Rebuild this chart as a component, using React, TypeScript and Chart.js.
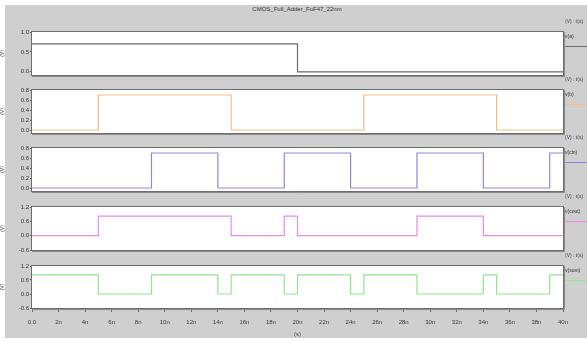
import React, { useEffect, useRef } from 'react';
import { Chart, registerables } from 'chart.js';
Chart.register(...registerables);

const TITLE = 'CMOS_Full_Adder_FoF47_22nm';
const X_TICKS = [0, 2, 4, 6, 8, 10, 12, 14, 16, 18, 20, 22, 24, 26, 28, 30, 32, 34, 36, 38, 40];

const aTimes = [0, 20, 40];
const aVals = [0.7, 0, 0];
const bTimes = [0, 5, 15, 25, 35, 40];
const bVals = [0, 0.7, 0, 0.7, 0, 0];
const cinTimes = [0, 9, 14, 19, 24, 29, 34, 39, 40];
const cinVals = [0, 0.7, 0, 0.7, 0, 0.7, 0, 0.7, 0.7];
const coutTimes = [0, 5, 15, 19, 20, 29, 34, 40];
const coutVals = [0, 0.82, 0, 0.82, 0, 0.82, 0, 0];
const sumTimes = [0, 5, 9, 14, 15, 19, 20, 24, 25, 29, 34, 35, 39, 40];
const sumVals = [0.82, 0, 0.82, 0, 0.82, 0, 0.82, 0, 0.82, 0, 0.82, 0, 0.82, 0.82];

const ticks1 = [0, 0.5, 1.0];
const ticks23 = [0, 0.2, 0.4, 0.6, 0.8];
const ticks45 = [-0.6, 0, 0.6, 1.2];

type Panel = {
  name: string; color: string; times: number[]; vals: number[];
  min: number; max: number; ticks: number[]; top: number; bottom: number; last?: boolean;
};

const PANELS: Panel[] = [
  { name: 'v(a)', color: '#6a6a6a', times: aTimes, vals: aVals, min: -0.08, max: 1.0, ticks: ticks1, top: 32, bottom: 75 },
  { name: 'v(b)', color: '#f5bd85', times: bTimes, vals: bVals, min: -0.06, max: 0.8, ticks: ticks23, top: 90, bottom: 133 },
  { name: 'v(cin)', color: '#8a8ae0', times: cinTimes, vals: cinVals, min: -0.06, max: 0.8, ticks: ticks23, top: 148, bottom: 191 },
  { name: 'v(cout)', color: '#e88ce8', times: coutTimes, vals: coutVals, min: -0.6, max: 1.2, ticks: ticks45, top: 207, bottom: 250 },
  { name: 'v(sum)', color: '#8ee88e', times: sumTimes, vals: sumVals, min: -0.6, max: 1.2, ticks: ticks45, top: 266, bottom: 308, last: true },
];

const PAD = 8;
const X_AXIS_H = 30;
const FONT = 'Liberation Sans, Arial, sans-serif';

const framePlugin = {
  id: 'frame',
  beforeDatasetsDraw(chart: any) {
    const { ctx, chartArea: a } = chart;
    ctx.save();
    ctx.fillStyle = '#ffffff';
    ctx.fillRect(a.left, a.top, a.right - a.left, a.bottom - a.top);
    ctx.restore();
  },
  afterDatasetsDraw(chart: any) {
    const { ctx, chartArea: a } = chart;
    ctx.save();
    ctx.strokeStyle = '#6e6e6e';
    ctx.lineWidth = 1;
    ctx.strokeRect(Math.round(a.left) - 0.5, Math.round(a.top) - 0.5, Math.round(a.right - a.left) + 1, Math.round(a.bottom - a.top) + 1);
    ctx.strokeStyle = '#8a8a8a';
    ctx.beginPath();
    ctx.moveTo(Math.round(a.left), Math.round(a.bottom) + 1.5);
    ctx.lineTo(Math.round(a.right) + 1.5, Math.round(a.bottom) + 1.5);
    ctx.lineTo(Math.round(a.right) + 1.5, Math.round(a.top));
    ctx.stroke();
    ctx.restore();
  },
};

function PanelChart({ p }: { p: Panel }) {
  const ref = useRef<HTMLCanvasElement | null>(null);
  const h = p.bottom - p.top + PAD + (p.last ? X_AXIS_H : PAD);
  useEffect(() => {
    if (!ref.current) return;
    const chart = new Chart(ref.current, {
      type: 'line',
      data: {
        datasets: [{
          data: p.times.map((t, i) => ({ x: t, y: p.vals[i] })),
          borderColor: p.color,
          borderWidth: 1.2,
          pointRadius: 0,
          stepped: 'before',
          fill: false,
        }],
      },
      options: {
        animation: false,
        responsive: false,
        maintainAspectRatio: false,
        layout: { padding: { left: 0, right: 24, top: PAD, bottom: p.last ? 0 : PAD } },
        plugins: { legend: { display: false }, tooltip: { enabled: false } },
        scales: {
          x: {
            type: 'linear',
            min: 0,
            max: 40,
            display: !!p.last,
            afterBuildTicks: (s: any) => { s.ticks = X_TICKS.map((v) => ({ value: v })); },
            afterFit: (s: any) => { s.height = p.last ? X_AXIS_H : 0; },
            grid: { drawOnChartArea: false, drawTicks: true, tickLength: 4, color: '#666' },
            border: { display: false },
            ticks: {
              autoSkip: false,
              maxRotation: 0,
              padding: 7,
              color: '#3a3a3a',
              font: { size: 6, family: FONT },
              callback: (v: any) => (v === 0 ? '0.0' : v + 'n'),
            },
            title: { display: true, text: '(s)', color: '#444', font: { size: 6, family: FONT }, padding: 0 },
          },
          y: {
            type: 'linear',
            min: p.min,
            max: p.max,
            afterBuildTicks: (s: any) => { s.ticks = p.ticks.map((v) => ({ value: v })); },
            afterFit: (s: any) => { s.width = 32; },
            grid: { drawOnChartArea: false, drawTicks: true, tickLength: 2, color: '#666' },
            border: { display: false },
            ticks: {
              padding: 1,
              color: '#3a3a3a',
              font: { size: 6, family: FONT },
              callback: (v: any) => Number(v).toFixed(1),
            },
            title: { display: true, text: '(V)', color: '#444', font: { size: 5, family: FONT }, padding: { top: 0, bottom: 4 } },
          },
        },
      },
      plugins: [framePlugin],
    } as any);
    return () => chart.destroy();
  }, []);
  return (
    <canvas
      ref={ref}
      width={587}
      height={h}
      style={{ position: 'absolute', left: 0, top: p.top - PAD, width: 587, height: h }}
    />
  );
}

export default function App() {
  return (
    <div style={{ position: 'fixed', left: 0, top: 0, width: 587, height: 341, background: '#ffffff', overflow: 'hidden' }}>
      <div style={{ position: 'absolute', left: 5, top: 5, width: 582, height: 333, background: '#cfcfcf' }} />
      <div style={{ position: 'absolute', left: 0, top: 6, width: 594, textAlign: 'center', fontFamily: FONT, fontSize: 6, color: '#333' }}>
        {TITLE}
      </div>
      {PANELS.map((p) => (
        <PanelChart key={p.name} p={p} />
      ))}
      {PANELS.map((p) => (
        <React.Fragment key={p.name + '-lg'}>
          <div style={{ position: 'absolute', left: 565, top: p.top - 14, fontFamily: FONT, fontSize: 5, color: '#444', whiteSpace: 'nowrap' }}>
            (V) : t(s)
          </div>
          <div style={{ position: 'absolute', left: 565, top: p.top + 1, fontFamily: FONT, fontSize: 5, color: '#333', whiteSpace: 'nowrap' }}>
            {p.name}
          </div>
          <div style={{ position: 'absolute', left: 565, top: p.top + 14, width: 22, height: 1, background: p.color }} />
        </React.Fragment>
      ))}
    </div>
  );
}
